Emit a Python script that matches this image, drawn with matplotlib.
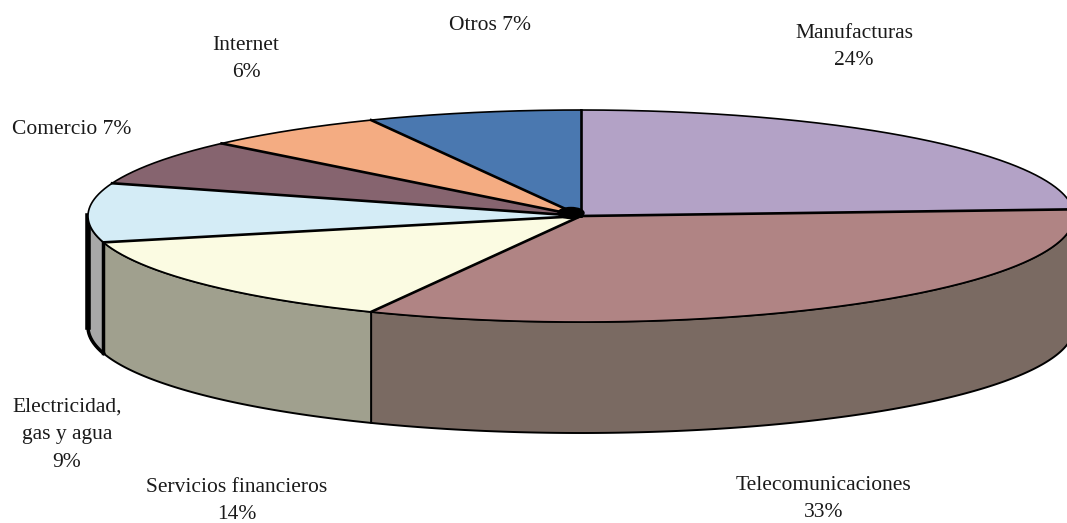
import numpy as np
import matplotlib.pyplot as plt
from matplotlib.patches import Ellipse

labels = ["Manufacturas\n24%", "Telecomunicaciones\n33%", "Servicios financieros\n14%",
          "Electricidad,\ngas y agua\n9%", "Comercio 7%", "Internet\n6%", "Otros 7%"]
values = [24, 33, 14, 9, 7, 6, 7]
top_colors = ["#B3A2C6", "#B08484", "#FBFBE2", "#D4ECF6", "#86646F", "#F4AC82", "#4A78B0"]
side_colors = ["#85789A", "#7A6A62", "#A0A08E", "#A8A8A8", "#5E4650", "#B07C5C", "#345682"]
label_pos = [(854, 47), (824, 499), (237, 501), (67, 435), (72, 129), (246, 59), (490, 25)]

W, H = 1067, 523
cx, cy = 581, 216
rx, ry = 493, 106
depth = 111


def rim(a0, a1, n=200):
    # angles in degrees, clockwise from the top of the pie
    a = np.radians(np.linspace(a0, a1, n))
    return cx + rx * np.sin(a), cy - ry * np.cos(a)


fig = plt.figure(figsize=(W / 100, H / 100), dpi=100)
ax = fig.add_axes([0, 0, 1, 1])
ax.set_xlim(0, W)
ax.set_ylim(H, 0)
ax.axis("off")

edges = np.cumsum([0] + values) / sum(values) * 360

# side wall, only the front half (90 to 270 deg) is visible
for i in range(len(values)):
    a0, a1 = max(edges[i], 90), min(edges[i + 1], 270)
    if a0 >= a1:
        continue
    x, y = rim(a0, a1)
    ax.fill(np.r_[x, x[::-1]], np.r_[y, y[::-1] + depth], facecolor=side_colors[i],
            edgecolor="black", linewidth=1.4, joinstyle="round", zorder=1)

# thick dark outline on the far left of the wall
x, y = rim(edges[3], 270)
ax.plot(x, y + depth, color="black", lw=2.5, zorder=2)
ax.plot([x[-1], x[-1]], [y[-1], y[-1] + depth], color="black", lw=4, zorder=2)
ax.plot([x[0], x[0]], [y[0], y[0] + depth], color="black", lw=2.5, zorder=2)

# top face
for i in range(len(values)):
    x, y = rim(edges[i], edges[i + 1])
    ax.fill(np.r_[cx, x], np.r_[cy, y], facecolor=top_colors[i], edgecolor="none", zorder=3)
    ax.plot(x, y, color="black", lw=1.2, zorder=4)
    ax.plot([cx, x[0]], [cy, y[0]], color="black", lw=1.9, zorder=4)

# lines run together into a dark blob at the centre
ax.add_patch(Ellipse((cx - 10, cy - 3), 26, 11, color="black", zorder=5))

for lab, (lx, ly) in zip(labels, label_pos):
    ax.text(lx, ly, lab, ha="center", va="center", family="Liberation Serif",
            fontsize=15.5, color="#1a1a1a", linespacing=1.62, zorder=6)

fig.savefig("out.png", dpi=100, facecolor="white")
